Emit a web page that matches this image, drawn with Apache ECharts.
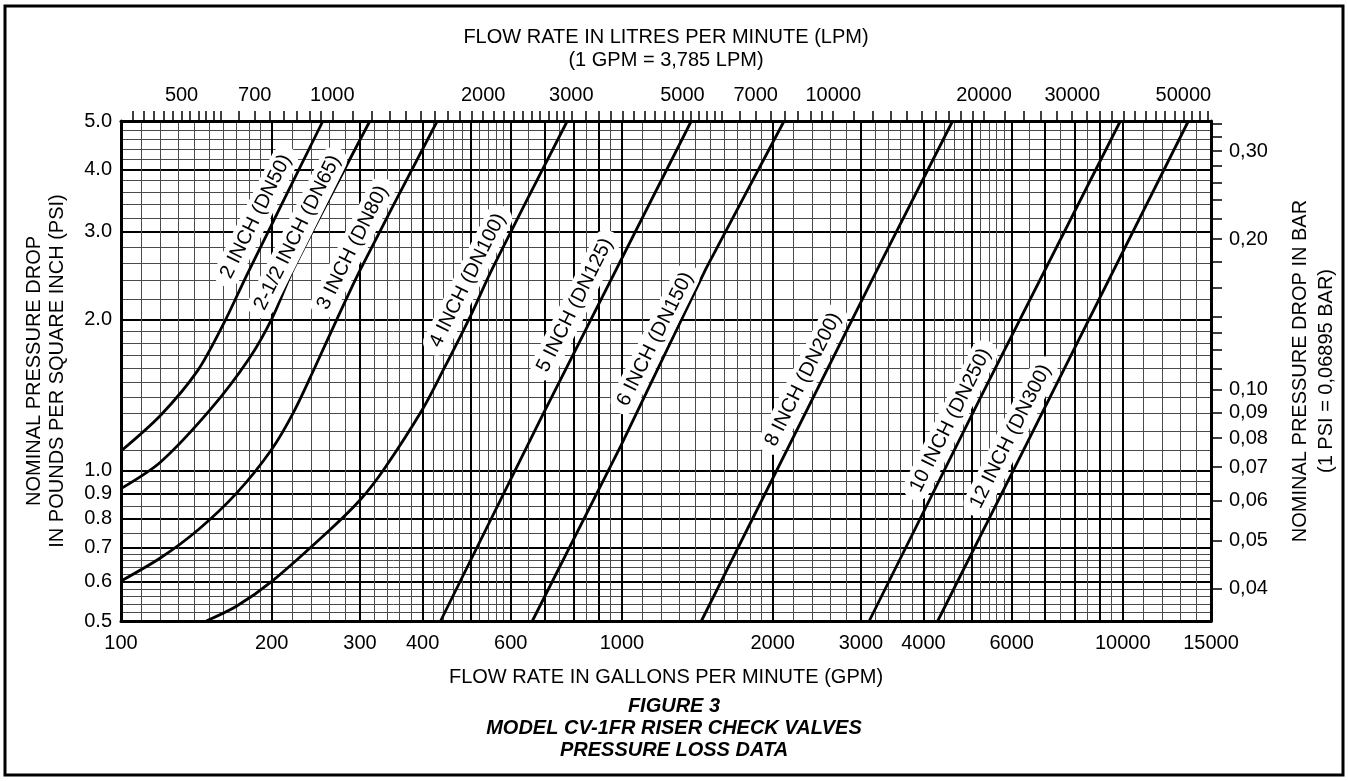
<!DOCTYPE html>
<html><head><meta charset="utf-8">
<script src="https://cdn.jsdelivr.net/npm/echarts@6/dist/echarts.min.js"></script>
<style>html,body{margin:0;padding:0;background:#fff}#c{width:1348px;height:781px}</style>
</head><body><div id="c"></div>
<script>
// ---- axis labels / ticks ----
const gpmLabels = [100,200,300,400,600,1000,2000,3000,4000,6000,10000,15000];
const lpmLabels = [500,700,1000,2000,3000,5000,7000,10000,20000,30000,50000];
const lpmTicks = [400,420,440,460,480,500,520,540,560,580,600,650,700,750,800,850,900,950,1000,
  1100,1200,1300,1400,1500,1600,1700,1800,1900,2000,2100,2200,2300,2400,2500,2600,2700,2800,2900,
  3000,3200,3400,3600,3800,4000,4200,4400,4600,4800,5000,5200,5400,5600,5800,6000,6500,7000,7500,
  8000,8500,9000,9500,10000,11000,12000,13000,14000,15000,16000,17000,18000,19000,20000,22000,24000,
  26000,28000,30000,32000,34000,36000,38000,40000,42000,44000,46000,48000,50000,52000,54000,56000];
const psiLabels = [0.5,0.6,0.7,0.8,0.9,1,2,3,4,5];
const barLabels = [0.04,0.05,0.06,0.07,0.08,0.09,0.1,0.2,0.3];
const barTicks = [0.04,0.05,0.06,0.07,0.08,0.09,0.10,0.11,0.12,0.13,0.14,0.16,0.18,0.20,0.22,0.24,0.26,0.28,0.30,0.32,0.34];
// ---- log paper grid ----
const gridGpmThin = [110,120,130,140,150,160,170,180,190,220,240,260,280,320,340,360,380,420,440,460,480,
  520,540,560,580,650,750,850,950,1100,1200,1300,1400,1500,1600,1700,1800,1900,2200,2400,2600,2800,
  3200,3400,3600,3800,4200,4400,4600,4800,5200,5400,5600,5800,6500,7500,8500,9500,11000,12000,13000,14000];
const gridGpmThick = [200,300,400,500,600,700,800,900,1000,2000,3000,4000,5000,6000,7000,8000,9000,10000];
const gridPsiThin = [0.52,0.54,0.56,0.58,0.62,0.64,0.66,0.68,0.75,0.85,0.95,1.1,1.2,1.3,1.4,1.5,1.6,1.7,1.8,1.9,
  2.2,2.4,2.6,2.8,3.2,3.4,3.6,3.8,4.2,4.4,4.6,4.8];
const gridPsiThick = [0.6,0.7,0.8,0.9,1,2,3,4];
// ---- curves: [GPM, PSI] ----
const curveNames = ['2 INCH (DN50)','2-1/2 INCH (DN65)','3 INCH (DN80)','4 INCH (DN100)','5 INCH (DN125)',
  '6 INCH (DN150)','8 INCH (DN200)','10 INCH (DN250)','12 INCH (DN300)'];
const dn50  = [[100,1.094],[120,1.29],[142,1.58],[160,1.96],[179,2.48],[253,5.0]];
const dn65  = [[100,0.92],[120,1.04],[151,1.326],[180,1.671],[200,2.01],[221,2.531],[314,5.0]];
const dn80  = [[100,0.601],[120,0.669],[143,0.763],[170.5,0.903],[200,1.103],[221,1.307],[243,1.596],[270,2.01],[301,2.531],[428,5.0]];
const dn100 = [[148,0.5],[170,0.535],[200,0.6],[262,0.763],[301,0.876],[335,1.006],[400,1.326],[441,1.596],[499,2.041],[551,2.531],[778,5.0]];
const dn125 = [[434.5,0.5],[688,1.267],[1376,5.0]];
const dn150 = [[662.5,0.5],[995,1.12],[1471,2.531],[2108,5.0]];
const dn200 = [[1441,0.5],[3239,2.531],[4574,5.0]];
const dn250 = [[3117,0.5],[5292,1.45],[9890,5.0]];
const dn300 = [[4270,0.5],[6263,1.073],[13520,5.0]];
const curves = [dn50,dn65,dn80,dn100,dn125,dn150,dn200,dn250,dn300];
const labelAt = [[186,3.22],[225,2.99],[290,2.79],[492,2.40],[806,2.14],[1165,1.83],[2300,1.52],[4530,1.26],[5970,1.17]];

const GPM_TO_LPM = 3.785, PSI_TO_BAR = 0.06895;
const xMin = 100, xMax = 15000, yMin = 0.5, yMax = 5.0;
const FONT = "'Liberation Sans', Arial, Helvetica, sans-serif";
const G = {left:121, right:137, top:121, bottom:160};

const hidden = {axisLine:{show:false}, axisLabel:{show:false}};
function gridAxis(type, vals, width, color, gi){
  return Object.assign({type:'log', logBase:10, gridIndex:gi, silent:true, z:0,
    min: type==='x'?xMin:yMin, max: type==='x'?xMax:yMax,
    axisTick:{show:false, customValues:vals},
    splitLine:{show:true, lineStyle:{color:color, width:width}}}, hidden);
}

const series = curves.map((d,i)=>({
  type:'line', name:curveNames[i], data:d, xAxisIndex:0, yAxisIndex:0,
  showSymbol:false, symbol:'none', smooth: d.length>4 ? 0.3 : false,
  lineStyle:{color:'#000', width:2.8}, z:5, silent:true, clip:true,
  markPoint:{symbol:'rect', symbolSize:0, silent:true, animation:false, z:20,
    data:[{coord:labelAt[i], label:{show:true, position:'inside', formatter:curveNames[i], rotate:63.4,
      color:'#000', fontFamily:FONT, fontSize:20, backgroundColor:'#ffffff', borderRadius:13,
      padding:[4,9,3,9]}}]}
}));

const option = {
  animation:false, backgroundColor:'#fff',
  graphic:[{type:'rect', shape:{x:5, y:6, width:1338, height:769}, style:{fill:null, stroke:'#000', lineWidth:3}, z:0, silent:true}],
  title:{text:'FIGURE 3\nMODEL CV-1FR RISER CHECK VALVES\nPRESSURE LOSS DATA', left:'center', top:690,
    textStyle:{fontFamily:FONT, fontSize:20, fontWeight:'bold', fontStyle:'italic', lineHeight:22, color:'#000'}},
  grid:[Object.assign({z:2}, G), Object.assign({z:0}, G), Object.assign({z:1}, G)],
  xAxis:[
    {type:'log', logBase:10, gridIndex:0, position:'bottom', min:xMin, max:xMax,
     name:'FLOW RATE IN GALLONS PER MINUTE (GPM)', nameLocation:'middle', nameGap:46,
     nameTextStyle:{fontFamily:FONT, fontSize:20, color:'#000'},
     axisLine:{show:true, lineStyle:{color:'#000', width:3}},
     axisTick:{show:false},
     axisLabel:{customValues:gpmLabels, formatter:v=>String(Math.round(v)), fontFamily:FONT, fontSize:20, color:'#000', margin:12},
     splitLine:{show:false}, z:4},
    {type:'log', logBase:10, gridIndex:0, position:'top', min:xMin*GPM_TO_LPM, max:xMax*GPM_TO_LPM,
     name:'FLOW RATE IN LITRES PER MINUTE (LPM)\n(1 GPM = 3,785 LPM)', nameLocation:'middle', nameGap:49,
     nameTextStyle:{fontFamily:FONT, fontSize:20, color:'#000', lineHeight:23},
     axisLine:{show:true, lineStyle:{color:'#000', width:3}},
     axisTick:{show:true, customValues:lpmTicks, inside:false, length:10, lineStyle:{color:'#000', width:1.5}},
     axisLabel:{customValues:lpmLabels, formatter:v=>String(Math.round(v)), fontFamily:FONT, fontSize:20, color:'#000', margin:16},
     splitLine:{show:false}, z:4},
    gridAxis('x', gridGpmThin, 1, '#4a4a4a', 1),
    gridAxis('x', gridGpmThick, 2, '#000', 2)
  ],
  yAxis:[
    {type:'log', logBase:10, gridIndex:0, position:'left', min:yMin, max:yMax,
     name:'NOMINAL PRESSURE DROP\nIN POUNDS PER SQUARE INCH (PSI)', nameLocation:'middle', nameGap:52, nameRotate:90,
     nameTextStyle:{fontFamily:FONT, fontSize:20, color:'#000', lineHeight:23},
     axisLine:{show:true, lineStyle:{color:'#000', width:3}},
     axisTick:{show:false},
     axisLabel:{customValues:psiLabels, formatter:v=>Number(v).toFixed(1), fontFamily:FONT, fontSize:20, color:'#000', margin:9},
     splitLine:{show:false}, z:4},
    {type:'log', logBase:10, gridIndex:0, position:'right', min:yMin*PSI_TO_BAR, max:yMax*PSI_TO_BAR,
     name:'NOMINAL PRESSURE DROP IN BAR\n(1 PSI = 0,06895 BAR)', nameLocation:'middle', nameGap:76, nameRotate:90,
     nameTextStyle:{fontFamily:FONT, fontSize:20, color:'#000', lineHeight:26},
     axisLine:{show:true, lineStyle:{color:'#000', width:3}},
     axisTick:{show:true, customValues:barTicks, inside:false, length:11, lineStyle:{color:'#000', width:1.5}},
     axisLabel:{customValues:barLabels, formatter:v=>Number(v).toFixed(2).replace('.', ','), fontFamily:FONT, fontSize:20, color:'#000', margin:18},
     splitLine:{show:false}, z:4},
    gridAxis('y', gridPsiThin, 1, '#4a4a4a', 1),
    gridAxis('y', gridPsiThick, 2, '#000', 2)
  ],
  series: series
};
const chart = echarts.init(document.getElementById('c'), null, {renderer:'canvas'});
chart.setOption(option);
</script></body></html>
